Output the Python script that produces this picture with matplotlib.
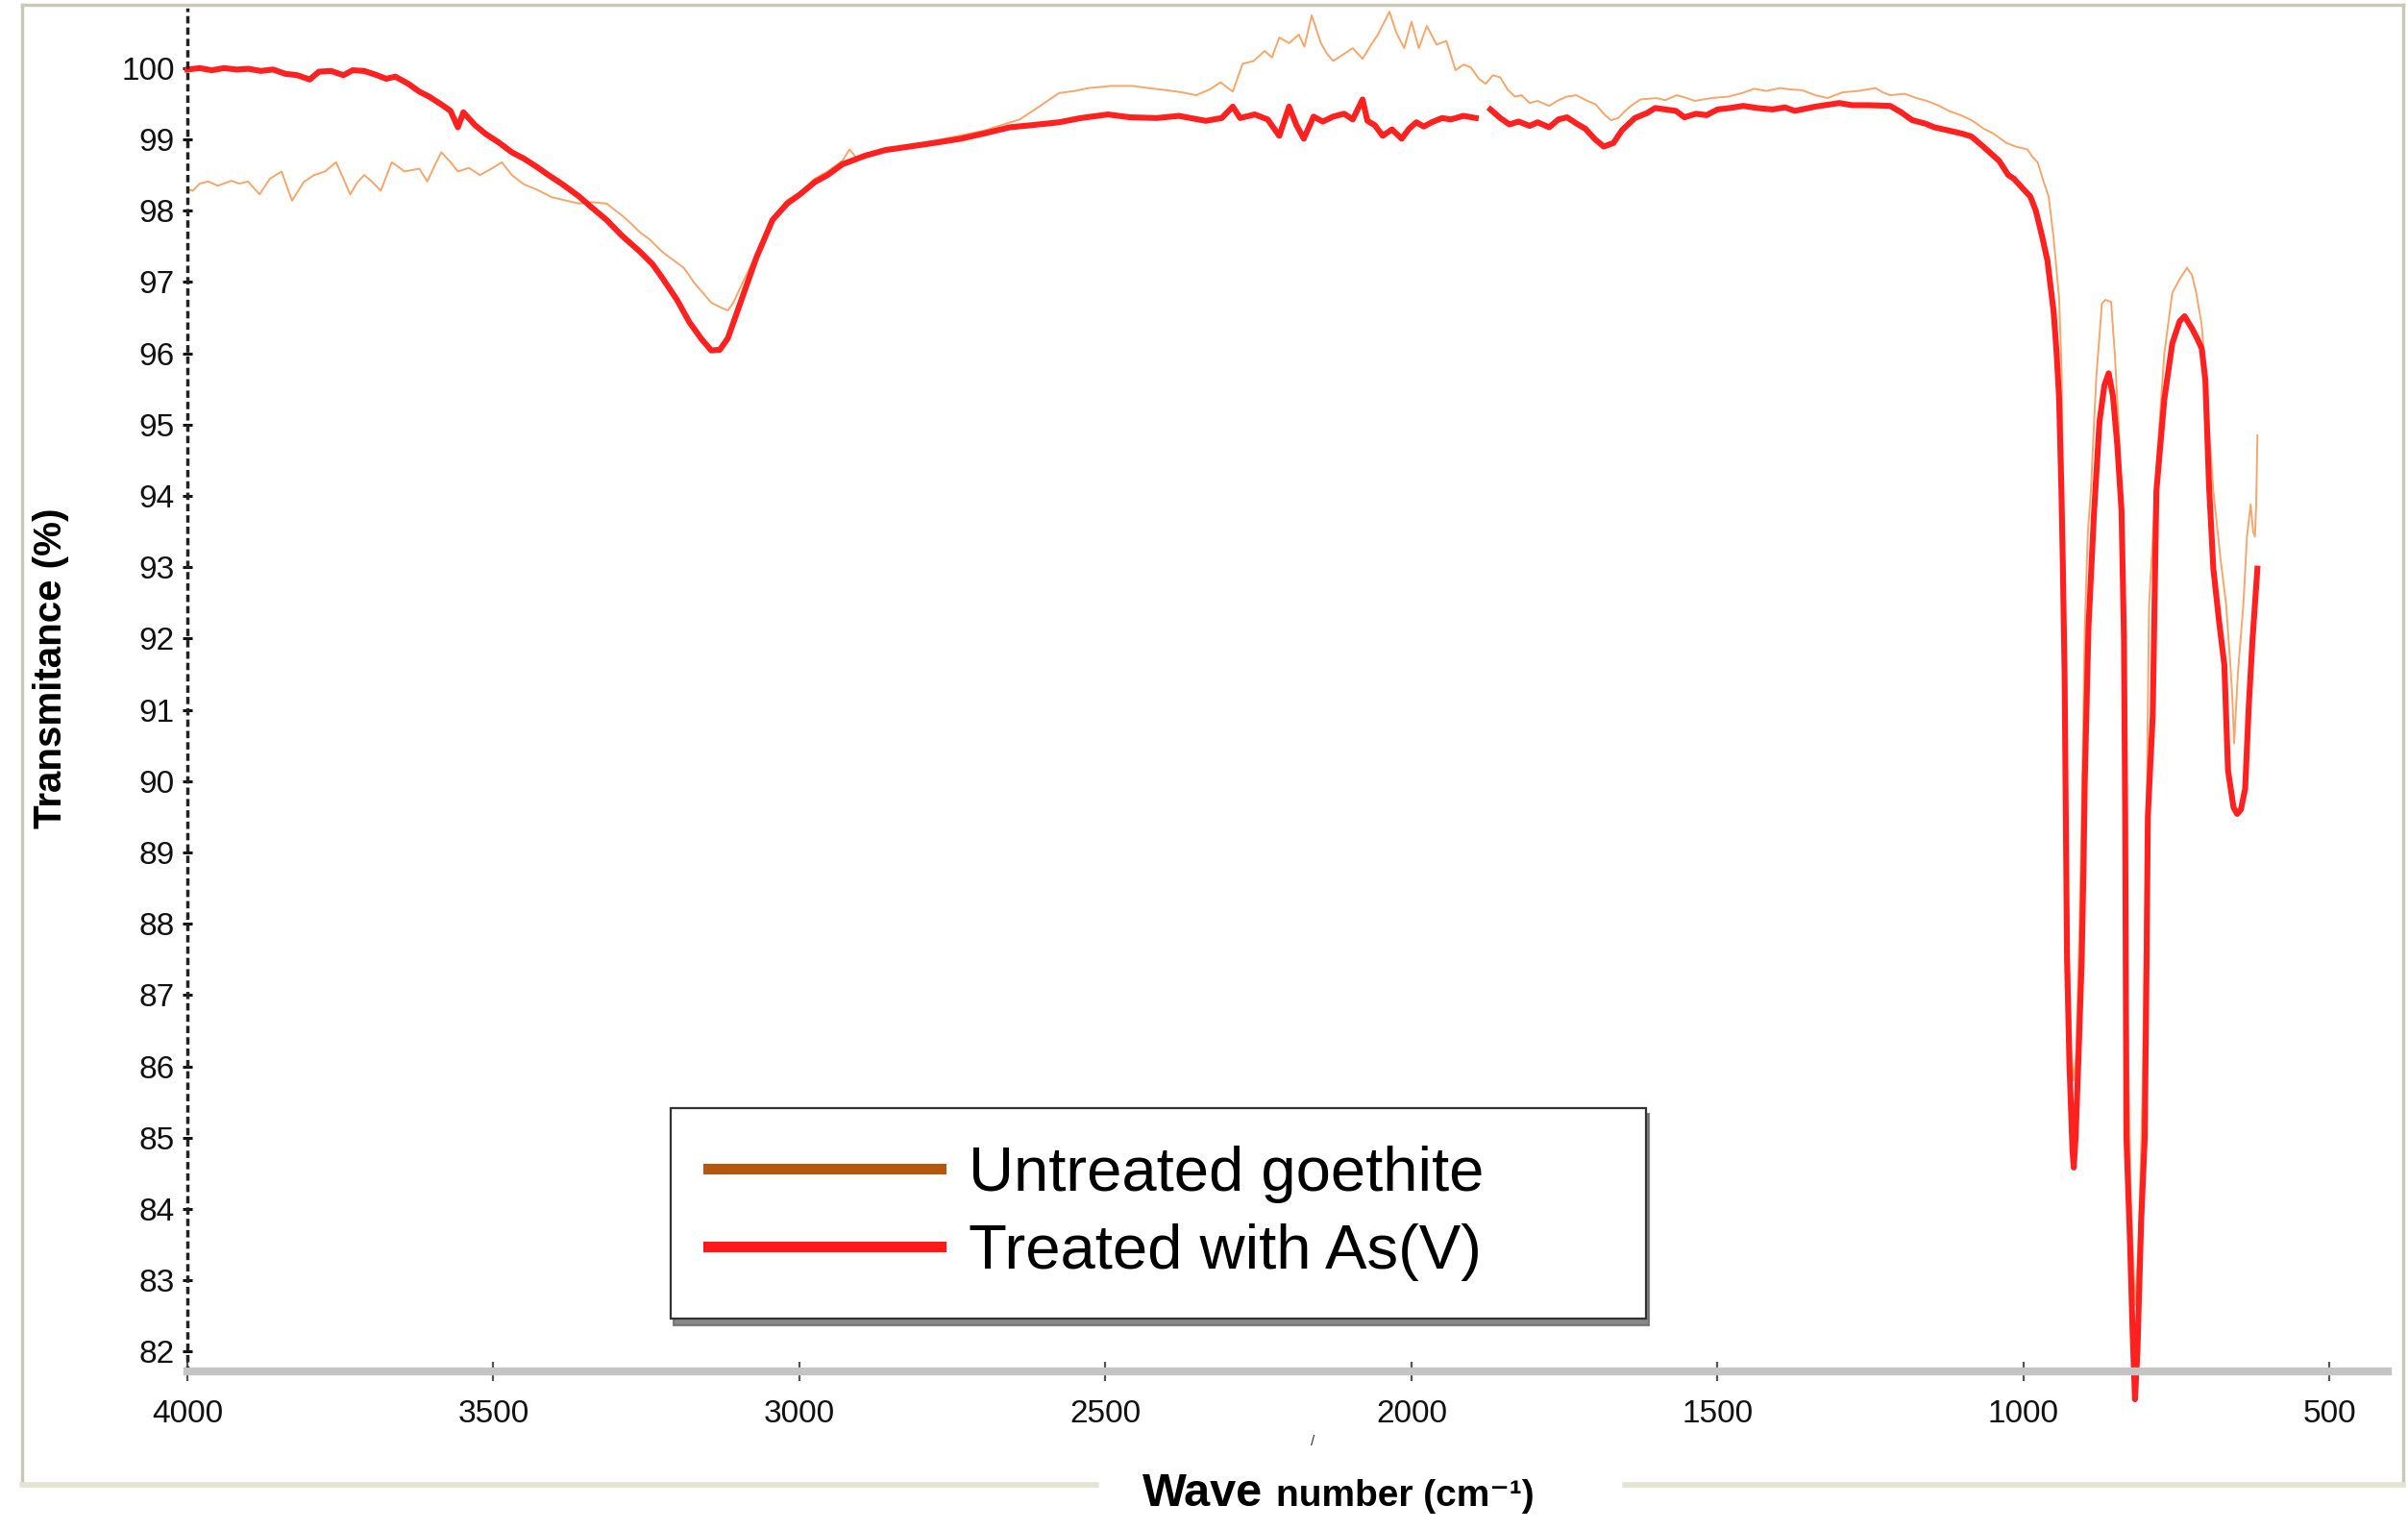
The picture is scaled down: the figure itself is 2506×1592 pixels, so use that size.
import numpy as np
import matplotlib
matplotlib.use("Agg")
import matplotlib.pyplot as plt
from matplotlib.lines import Line2D

plt.rcParams['font.family'] = ['Liberation Sans', 'DejaVu Sans']

# 未处理的针铁矿 (细橙线)
wn_untreated = [
    4000, 3991, 3980, 3966, 3950, 3928, 3915, 3901, 3882, 3865, 3846, 3829, 3810, 3793,
    3775, 3757, 3745, 3734, 3722, 3711, 3700, 3684, 3666, 3645, 3621, 3608, 3595, 3585,
    3570, 3558, 3540, 3522, 3505, 3486, 3470, 3450, 3430, 3405, 3385, 3360, 3340, 3315,
    3300, 3288, 3275, 3261, 3245, 3225, 3205, 3189, 3171, 3158, 3144, 3130, 3117, 3108,
    3095, 3070, 3044, 3020, 2999, 2975, 2954, 2930, 2918, 2905, 2893, 2860, 2820, 2780,
    2740, 2700, 2670, 2640, 2610, 2576, 2550, 2528, 2490, 2456, 2430, 2400, 2375, 2352,
    2330, 2312, 2292, 2276, 2258, 2240, 2228, 2216, 2200, 2184, 2175, 2163, 2148, 2138,
    2128, 2110, 2096, 2080, 2068, 2055, 2036, 2025, 2012, 2000, 1988, 1975, 1959, 1943,
    1928, 1915, 1903, 1890, 1879, 1867, 1855, 1843, 1831, 1820, 1807, 1794, 1775, 1760,
    1746, 1731, 1715, 1699, 1685, 1674, 1662, 1651, 1640, 1626, 1600, 1585, 1567, 1550,
    1537, 1510, 1482, 1460, 1440, 1420, 1398, 1380, 1362, 1340, 1320, 1296, 1270, 1242,
    1230, 1218, 1194, 1175, 1158, 1140, 1122, 1100, 1085, 1065, 1049, 1028, 1013, 994,
    985, 977, 967, 959, 951, 942, 938, 934, 930, 926, 922, 918, 914, 909, 905, 900, 895,
    890, 885, 881, 872, 866, 857, 851, 845, 838, 834, 830, 825, 818, 812, 806, 800, 795,
    789, 783, 770, 757, 745, 733, 725, 718, 709, 703, 696, 690, 678, 669, 662, 659, 656,
    650, 641, 635, 629, 625, 622, 620, 618,
]
t_untreated = [
    98.30, 98.28, 98.38, 98.41, 98.35, 98.42, 98.38, 98.41, 98.23, 98.45, 98.55, 98.14, 98.40, 98.50,
    98.55, 98.68, 98.45, 98.23, 98.40, 98.50, 98.42, 98.28, 98.68, 98.55, 98.59, 98.41, 98.65, 98.82,
    98.68, 98.55, 98.60, 98.50, 98.58, 98.68, 98.50, 98.37, 98.30, 98.19, 98.15, 98.10, 98.12, 98.10,
    98.00, 97.92, 97.82, 97.70, 97.60, 97.43, 97.30, 97.20, 96.98, 96.85, 96.71, 96.65, 96.60, 96.71,
    96.95, 97.40, 97.90, 98.15, 98.25, 98.45, 98.55, 98.70, 98.86, 98.72, 98.80, 98.86, 98.92, 98.98,
    99.05, 99.12, 99.20, 99.28, 99.45, 99.65, 99.68, 99.72, 99.75, 99.75, 99.72, 99.69, 99.66, 99.62,
    99.70, 99.80, 99.67, 100.06, 100.10, 100.24, 100.15, 100.43, 100.35, 100.47, 100.30, 100.74, 100.35, 100.20,
    100.10, 100.20, 100.28, 100.13, 100.30, 100.47, 100.79, 100.50, 100.28, 100.65, 100.28, 100.59, 100.33, 100.38,
    99.97, 100.05, 100.01, 99.85, 99.78, 99.90, 99.87, 99.70, 99.60, 99.62, 99.51, 99.54, 99.47, 99.55,
    99.60, 99.62, 99.55, 99.49, 99.35, 99.27, 99.30, 99.40, 99.48, 99.56, 99.58, 99.55, 99.62, 99.58,
    99.54, 99.58, 99.60, 99.65, 99.71, 99.68, 99.72, 99.70, 99.69, 99.62, 99.58, 99.66, 99.68, 99.72,
    99.66, 99.62, 99.64, 99.58, 99.54, 99.48, 99.40, 99.33, 99.27, 99.15, 99.08, 98.95, 98.90, 98.86,
    98.75, 98.68, 98.40, 98.20, 97.62, 96.78, 95.80, 92.50, 89.50, 87.50, 86.20, 85.80, 86.20, 87.80, 89.50, 92.15, 93.50,
    94.07, 95.00, 95.69, 96.70, 96.75, 96.72, 96.00, 95.04, 93.75, 90.50, 86.50, 84.20, 82.65, 83.50, 85.50, 88.80, 92.47,
    93.40, 94.40, 96.00, 96.85, 97.04, 97.20, 97.10, 96.85, 96.40, 95.69, 94.80, 94.07, 93.10, 92.47, 91.60, 91.18, 90.53,
    91.50, 92.47, 93.43, 93.88, 93.50, 93.43, 93.88, 94.85,
]

# As(V) 处理后 (粗红线), nan = 原图中的断点
wn_treated = [
    4000, 3980, 3960, 3940, 3920, 3900, 3880, 3860, 3840, 3820, 3800, 3785, 3765, 3745,
    3730, 3711, 3690, 3675, 3660, 3639, 3621, 3605, 3585, 3570, 3558, 3549, 3530, 3513,
    3490, 3470, 3450, 3430, 3410, 3387, 3360, 3340, 3315, 3290, 3261, 3240, 3225, 3200,
    3180, 3160, 3144, 3130, 3117, 3105, 3089, 3070, 3044, 3020, 2999, 2975, 2954, 2930,
    2893, 2860, 2820, 2780, 2736, 2700, 2656, 2620, 2576, 2540, 2496, 2460, 2416, 2380,
    2336, 2310, 2292, 2280, 2256, 2235, 2216, 2200, 2188, 2176, 2160, 2145, 2128, 2110,
    2096, 2080, 2072, 2060, 2047, 2032, 2016, 2004, 1992, 1980, 1967, 1950, 1936, 1915,
    1895, 1888, 1871, 1855, 1840, 1825, 1807, 1794, 1775, 1760, 1746, 1730, 1716, 1700,
    1686, 1670, 1656, 1635, 1615, 1602, 1585, 1568, 1554, 1535, 1518, 1500, 1480, 1458,
    1435, 1410, 1390, 1374, 1340, 1301, 1280, 1254, 1218, 1200, 1182, 1160, 1146, 1120,
    1100, 1085, 1066, 1040, 1025, 1016, 1000, 989, 980, 970, 961, 951, 946, 942, 938,
    936, 933, 931, 929, 925, 920, 918, 915, 910, 905, 902, 900, 894, 885, 876, 868, 861,
    854, 847, 840, 836, 834, 832, 826, 822, 818, 814, 808, 802, 799, 797, 789, 785, 783,
    770, 757, 745, 737, 725, 716, 709, 703, 697, 690, 681, 672, 666, 657, 651, 645, 638,
    632, 626, 618,
]
t_treated = [
    99.98, 100.00, 99.97, 100.00, 99.98, 99.99, 99.96, 99.98, 99.92, 99.90, 99.84, 99.95, 99.96, 99.90,
    99.97, 99.96, 99.90, 99.85, 99.88, 99.78, 99.67, 99.60, 99.49, 99.40, 99.17, 99.38, 99.20, 99.08,
    98.95, 98.82, 98.73, 98.62, 98.50, 98.37, 98.20, 98.05, 97.87, 97.65, 97.43, 97.25, 97.07, 96.75,
    96.44, 96.20, 96.04, 96.05, 96.21, 96.50, 96.89, 97.35, 97.87, 98.10, 98.23, 98.40, 98.50, 98.65,
    98.77, 98.85, 98.90, 98.95, 99.01, 99.08, 99.17, 99.20, 99.24, 99.30, 99.35, 99.31, 99.30, 99.33,
    99.26, 99.30, 99.46, 99.30, 99.35, 99.28, 99.05, 99.46, 99.20, 99.01, 99.32, 99.25, 99.32, 99.36,
    99.28, 99.56, 99.26, 99.20, 99.05, 99.14, 99.01, 99.15, 99.24, 99.18, 99.24, 99.30, 99.28, 99.33,
    99.30, np.nan, 99.42, 99.30, 99.21, 99.25, 99.19, 99.24, 99.17, 99.28, 99.31, 99.22, 99.15, 99.00,
    98.90, 98.95, 99.13, 99.30, 99.37, 99.44, 99.42, 99.40, 99.31, 99.36, 99.34, 99.42, 99.44, 99.47,
    99.44, 99.42, 99.45, 99.40, 99.46, 99.51, 99.48, 99.48, 99.47, 99.38, 99.27, 99.22, 99.17, 99.12,
    99.08, 99.04, 98.90, 98.70, 98.50, 98.45, 98.30, 98.20, 98.00, 97.65, 97.30, 96.59, 96.00, 95.37, 94.00,
    93.10, 91.50, 89.50, 87.50, 86.00, 84.80, 84.58, 85.00, 86.20, 87.50, 88.80, 90.00, 92.15, 93.75, 95.04, 95.55, 95.72,
    95.40, 94.72, 93.80, 92.00, 89.50, 85.00, 83.50, 82.30, 81.33, 82.00, 83.80, 85.00, 87.50, 89.50, 90.92, 93.00, 94.07,
    95.36, 96.14, 96.45, 96.52, 96.35, 96.20, 96.07, 95.62, 94.14, 92.98, 92.27, 91.63, 90.15, 89.63, 89.54, 89.60, 89.89,
    91.07, 91.98, 92.98,
]

y_ticks = list(range(82, 101))
x_ticks = [4000, 3500, 3000, 2500, 2000, 1500, 1000, 500]
legend_labels = ['Untreated goethite', 'Treated with As(V)']

fig = plt.figure(figsize=(25.06, 15.92), dpi=100)
ax = fig.add_axes([0.0778, 0.1036, 0.9138, 0.8901])

ax.plot(wn_untreated, t_untreated, color='#f5a66c', lw=1.4)
ax.plot(wn_treated, t_treated, color='#ff2020', lw=4.4, clip_on=False,
        solid_joinstyle='round')

ax.set_xlim(4000, 405)
ax.set_ylim(81.72, 100.82)
ax.set_xticks(x_ticks)
ax.set_xticklabels([str(v) for v in x_ticks])
ax.set_yticks(y_ticks)
ax.set_yticklabels([str(v) for v in y_ticks])

for s in ['top', 'right']:
    ax.spines[s].set_visible(False)
ax.spines['left'].set_linestyle((0, (1.2, 2.2)))
ax.spines['left'].set_linewidth(2.5)
ax.spines['left'].set_color('#222222')
ax.spines['bottom'].set_color('#c4c4c4')
ax.spines['bottom'].set_linewidth(6)

ax.tick_params(axis='y', direction='inout', length=7, width=2.2, colors='#111111',
               labelsize=24, pad=6)
ax.tick_params(axis='x', direction='inout', length=14, width=1.6, color='#555555',
               labelcolor='#111111', labelsize=24, pad=14)

# 图例
handles = [Line2D([], [], color='#b3560f', lw=8),
           Line2D([], [], color='#ff1a1a', lw=8)]
leg = ax.legend(handles, legend_labels, loc='center',
                bbox_to_anchor=(0.2785, 0.139, 0.4051, 0.136),
                bbox_transform=fig.transFigure, mode='expand', borderaxespad=0,
                fontsize=47, frameon=True, fancybox=False,
                shadow={'ox': 2, 'oy': -5, 'color': '#6a6a6a', 'alpha': 0.8},
                handlelength=3.7, handletextpad=0.45, labelspacing=0.33,
                borderpad=0.6)
leg.get_frame().set_edgecolor('#333333')
leg.get_frame().set_linewidth(1.6)

# 坐标轴标题
fig.text(0.021, 0.563, 'Transmitance (%)', rotation=90, ha='center', va='center',
         fontsize=29, fontweight='bold')
fig.text(0.4745, 0.016, 'Wave', ha='left', va='baseline', fontsize=35, fontweight='bold')
fig.text(0.530, 0.016, 'number (cm\u207b\u00b9)', ha='left', va='baseline',
         fontsize=28, fontweight='bold')
fig.text(0.545, 0.058, '/', ha='center', va='center', fontsize=11, color='#333333')

# 外框 (底边在标题处断开)
frame_c = '#c9c9b8'
fig.add_artist(Line2D([0.0092, 0.0092], [0.0295, 0.9969], color=frame_c, lw=2.5))
fig.add_artist(Line2D([0.0092, 0.998], [0.9969, 0.9969], color=frame_c, lw=2.5))
fig.add_artist(Line2D([0.998, 0.998], [0.0295, 0.9969], color=frame_c, lw=2.5))
fig.add_artist(Line2D([0.0092, 0.4553], [0.0295, 0.0295], color='#e4e4d4', lw=4))
fig.add_artist(Line2D([0.6748, 0.998], [0.0295, 0.0295], color='#e4e4d4', lw=4))

plt.savefig('out.png', dpi=100)
